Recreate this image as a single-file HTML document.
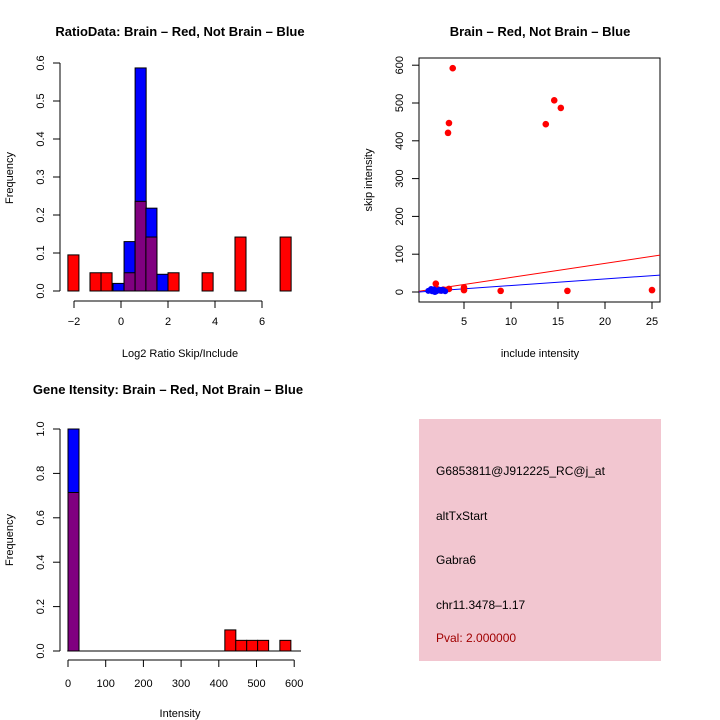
<!DOCTYPE html>
<html><head><meta charset="utf-8"><style>
body{margin:0;background:#fff;}
svg{display:block;font-family:"Liberation Sans",sans-serif;}
</style></head><body>
<svg id="c" width="720" height="720" viewBox="0 0 720 720"></svg>
<script>
// Panel 1: log2 ratio histogram
const p1Left=[-2.26,-1.32,-0.85,-0.34,0.13,0.6,1.06,1.53,2.0,3.45,4.85,6.77];
const p1Red=[0.095,0.048,0.048,0,0.048,0.236,0.142,0,0.048,0.048,0.142,0.142];
const p1Blue=[0,0,0,0.02,0.13,0.587,0.218,0.044,0,0,0,0];
const p1XTicks=[-2,0,2,4,6];
const p1YTicks=[0,0.1,0.2,0.3,0.4,0.5,0.6];
// Panel 2: scatter
const redX=[3.8,3.4,3.3,14.6,15.3,13.7,2.0,2.1,3.4,5.0,5.0,8.9,16.0,25.0,2.5,2.8];
const redY=[592,447,421,507,487,444,22,8,8,5,12,3,3,5,4,6];
const blueX=[1.2,1.4,1.6,1.8,2.0,2.2,2.4,2.6,2.8,3.0,1.5,1.9,2.3,2.7];
const blueY=[3,5,2,7,1,4,6,3,5,2,8,0,4,6];
const redLine=[0.2,2,26,98];
const blueLine=[0.2,0,26,45];
const p2XTicks=[5,10,15,20,25];
const p2YTicks=[0,100,200,300,400,500,600];
// Panel 3: intensity histogram
const p3Left=[0,416,445,474,503,562];
const p3Red=[0.714,0.095,0.048,0.048,0.048,0.048];
const p3Blue=[1.0,0,0,0,0,0];
const p3Width=29.2;
const p3XTicks=[0,100,200,300,400,500,600];
const p3YTicks=[0,0.2,0.4,0.6,0.8,1.0];

const NS="http://www.w3.org/2000/svg";
const svg=document.getElementById('c');
function mk(tag,attrs,parent,text){const e=document.createElementNS(NS,tag);for(const k in attrs)e.setAttribute(k,attrs[k]);if(text!==undefined)e.textContent=text;(parent||svg).appendChild(e);return e;}
function fmt(v){return (Math.round(v*10)/10).toFixed(1);}

// ---- panel 1
const x1=v=>121+(v-0)*23.5, y1=v=>291-v*380;
const g1=mk('g',{});


mk('text',{x:180,y:36,'text-anchor':'middle','font-size':13,'font-weight':'bold'},g1,'RatioData: Brain – Red, Not Brain – Blue');
for(let i=0;i<p1Left.length;i++){
  const xl=x1(p1Left[i]),w=0.47*23.5;
  const r=p1Red[i],b=p1Blue[i];
  const hi=Math.max(r,b),lo=Math.min(r,b);
  if(hi>0){
    const bar=mk('rect',{x:xl,y:y1(hi),width:w,height:y1(0)-y1(hi),fill:(b>=r?'#0000ff':'#ff0000'),stroke:'#000','stroke-width':1},g1);
    
    
  }
  if(lo>0){
    const ov=mk('rect',{x:xl,y:y1(lo),width:w,height:y1(0)-y1(lo),fill:'#800080',stroke:'#000','stroke-width':1},g1);
    
    
  }
}
mk('line',{x1:60,y1:y1(0),x2:60,y2:y1(0.6),stroke:'#000'},g1);
p1YTicks.forEach(t=>{mk('line',{x1:53,y1:y1(t),x2:60,y2:y1(t),stroke:'#000'},g1);
  mk('text',{x:0,y:0,transform:`translate(44,${y1(t)}) rotate(-90)`,'text-anchor':'middle','font-size':11},g1,fmt(t));});
mk('line',{x1:x1(-2),y1:301,x2:x1(6),y2:301,stroke:'#000'},g1);
p1XTicks.forEach(t=>{mk('line',{x1:x1(t),y1:301,x2:x1(t),y2:308,stroke:'#000'},g1);
  mk('text',{x:x1(t),y:325,'text-anchor':'middle','font-size':11},g1,String(t).replace('-','−'));});
mk('text',{x:180,y:357,'text-anchor':'middle','font-size':11},g1,'Log2 Ratio Skip/Include');
mk('text',{x:0,y:0,transform:'translate(13,178) rotate(-90)','text-anchor':'middle','font-size':11},g1,'Frequency');

// ---- panel 2
const x2=v=>417+v*9.4, y2=v=>292-v*0.378;
const g2=mk('g',{});


mk('text',{x:540,y:36,'text-anchor':'middle','font-size':13,'font-weight':'bold'},g2,'Brain – Red, Not Brain – Blue');
mk('rect',{x:419,y:58,width:241,height:244,fill:'none',stroke:'#000'},g2);
p2YTicks.forEach(t=>{mk('line',{x1:412,y1:y2(t),x2:419,y2:y2(t),stroke:'#000'},g2);
  mk('text',{x:0,y:0,transform:`translate(403,${y2(t)}) rotate(-90)`,'text-anchor':'middle','font-size':11},g2,t);});
p2XTicks.forEach(t=>{mk('line',{x1:x2(t),y1:302,x2:x2(t),y2:309,stroke:'#000'},g2);
  mk('text',{x:x2(t),y:325,'text-anchor':'middle','font-size':11},g2,t);});
mk('text',{x:540,y:357,'text-anchor':'middle','font-size':11},g2,'include intensity');
mk('text',{x:0,y:0,transform:'translate(372,180) rotate(-90)','text-anchor':'middle','font-size':11},g2,'skip intensity');
const clip=mk('clipPath',{id:'cp'},g2);mk('rect',{x:419,y:58,width:241,height:244},clip);
const rl=mk('line',{x1:x2(redLine[0]),y1:y2(redLine[1]),x2:x2(redLine[2]),y2:y2(redLine[3]),stroke:'#ff0000','clip-path':'url(#cp)'},g2);


const bl=mk('line',{x1:x2(blueLine[0]),y1:y2(blueLine[1]),x2:x2(blueLine[2]),y2:y2(blueLine[3]),stroke:'#0000ff','clip-path':'url(#cp)'},g2);


redX.forEach((v,i)=>{const c=mk('circle',{cx:x2(v),cy:y2(redY[i]),r:3.3,fill:'#ff0000'},g2);
  
  });
blueX.forEach((v,i)=>{const c=mk('circle',{cx:x2(v),cy:y2(blueY[i]),r:3,fill:'#0000ff'},g2);
  
  });

// ---- panel 3
const x3=v=>68+v*0.377, y3=v=>651-v*222;
const g3=mk('g',{});


mk('text',{x:168,y:394,'text-anchor':'middle','font-size':13,'font-weight':'bold'},g3,'Gene Itensity: Brain – Red, Not Brain – Blue');
for(let i=0;i<p3Left.length;i++){
  const xl=x3(p3Left[i]),w=p3Width*0.377;
  const r=p3Red[i],b=p3Blue[i];
  const hi=Math.max(r,b),lo=Math.min(r,b);
  if(hi>0){const bar=mk('rect',{x:xl,y:y3(hi),width:w,height:y3(0)-y3(hi),fill:(b>=r?'#0000ff':'#ff0000'),stroke:'#000'},g3);
    
    }
  if(lo>0){const ov=mk('rect',{x:xl,y:y3(lo),width:w,height:y3(0)-y3(lo),fill:'#800080',stroke:'#000'},g3);
    
    }
}
mk('line',{x1:x3(-2),y1:651,x2:301,y2:651,stroke:'#000'},g3);
mk('line',{x1:60,y1:y3(0),x2:60,y2:y3(1),stroke:'#000'},g3);
p3YTicks.forEach(t=>{mk('line',{x1:53,y1:y3(t),x2:60,y2:y3(t),stroke:'#000'},g3);
  mk('text',{x:0,y:0,transform:`translate(44,${y3(t)}) rotate(-90)`,'text-anchor':'middle','font-size':11},g3,fmt(t));});
mk('line',{x1:x3(0),y1:660,x2:x3(600),y2:660,stroke:'#000'},g3);
p3XTicks.forEach(t=>{mk('line',{x1:x3(t),y1:660,x2:x3(t),y2:667,stroke:'#000'},g3);
  mk('text',{x:x3(t),y:687,'text-anchor':'middle','font-size':11},g3,t);});
mk('text',{x:180,y:717,'text-anchor':'middle','font-size':11},g3,'Intensity');
mk('text',{x:0,y:0,transform:'translate(13,540) rotate(-90)','text-anchor':'middle','font-size':11},g3,'Frequency');
</script>
<div style="position:absolute;left:419px;top:419px;width:242px;height:242px;background:#f2c6d0;font-family:'Liberation Sans',sans-serif;font-size:12px;">
<div style="position:absolute;left:17px;top:45px;">G6853811@J912225_RC@j_at</div>
<div style="position:absolute;left:17px;top:90px;">altTxStart</div>
<div style="position:absolute;left:17px;top:134px;">Gabra6</div>
<div style="position:absolute;left:17px;top:179px;">chr11.3478–1.17</div>
<div style="position:absolute;left:17px;top:212px;color:#a00000;">Pval: 2.000000</div>
</div>
</body></html>
